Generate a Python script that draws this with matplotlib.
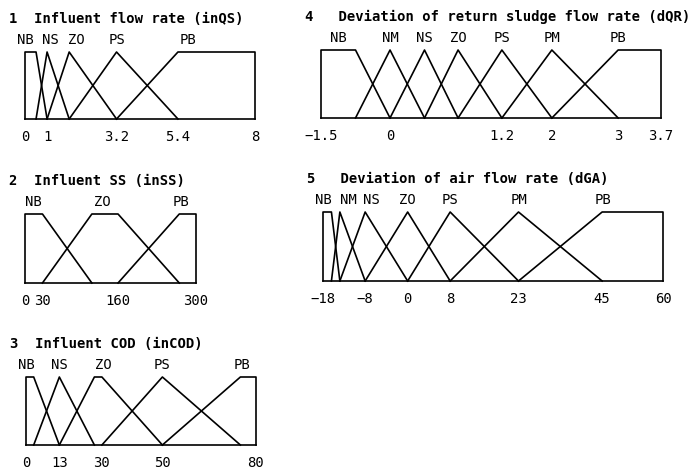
import numpy as np
import matplotlib.pyplot as plt

plt.rcParams["font.family"] = "DejaVu Sans Mono"
plt.rcParams["font.size"] = 10

# each fuzzy set is (a, b, c, d): 0 at a, 1 from b to c, 0 at d
inqs_terms = ["NB", "NS", "ZO", "PS", "PB"]
inqs_sets = [[0, 0, 0.5, 1], [0.5, 1, 1, 1.7], [1, 1.7, 1.7, 3.2],
             [1.7, 3.2, 3.2, 5.4], [3.2, 5.4, 8, 8]]
inqs_ticks = [0, 1, 3.2, 5.4, 8]

inss_terms = ["NB", "ZO", "PB"]
inss_sets = [[0, 0, 30, 115], [30, 115, 160, 270], [160, 270, 300, 300]]
inss_ticks = [0, 30, 160, 300]

incod_terms = ["NB", "NS", "ZO", "PS", "PB"]
incod_sets = [[0, 0, 3, 13], [3, 13, 13, 27], [13, 27, 30, 50],
              [30, 50, 50, 75], [50, 75, 80, 80]]
incod_ticks = [0, 13, 30, 50, 80]

dqr_terms = ["NB", "NM", "NS", "ZO", "PS", "PM", "PB"]
dqr_sets = [[-1.5, -1.5, -0.75, 0], [-0.75, 0, 0, 0.37], [0, 0.37, 0.37, 0.73],
            [0.37, 0.73, 0.73, 1.2], [0.73, 1.2, 1.2, 2], [1.2, 2, 2, 3],
            [2, 3, 3.7, 3.7]]
dqr_ticks = [-1.5, 0, 1.2, 2, 3, 3.7]

dga_terms = ["NB", "NM", "NS", "ZO", "PS", "PM", "PB"]
dga_sets = [[-18, -18, -16, -14], [-16, -14, -14, -8], [-14, -8, -8, 0],
            [-8, 0, 0, 8], [0, 8, 8, 23], [8, 23, 23, 45], [23, 45, 60, 60]]
dga_ticks = [-18, -8, 0, 8, 23, 45, 60]

# the original drawing does not use an even axis: where each tick sits (fraction of the box)
inqs_tick_pos = [0, 0.096, 0.398, 0.665, 1]
inss_tick_pos = [0, 0.102, 0.544, 1]
incod_tick_pos = [0, 0.145, 0.330, 0.593, 1]
dqr_tick_pos = [0, 0.203, 0.532, 0.679, 0.874, 1]
dga_tick_pos = [0, 0.124, 0.249, 0.374, 0.575, 0.821, 1]

W, H = 696, 474
panels = [
    ("1  Influent flow rate (inQS)", inqs_terms, inqs_sets, inqs_ticks, inqs_tick_pos,
     (25, 255, 52, 119), {"NB": -5, "NS": 3, "ZO": 7, "PB": 10}),
    ("2  Influent SS (inSS)", inss_terms, inss_sets, inss_ticks, inss_tick_pos,
     (25, 196, 214, 283), {"ZO": -3, "PB": 2}),
    ("3  Influent COD (inCOD)", incod_terms, incod_sets, incod_ticks, incod_tick_pos,
     (26, 256, 377, 445), {"NB": -3, "ZO": 5, "PB": 2}),
    ("4   Deviation of return sludge flow rate (dQR)", dqr_terms, dqr_sets, dqr_ticks, dqr_tick_pos,
     (321, 661, 50, 118), {}),
    ("5   Deviation of air flow rate (dGA)", dga_terms, dga_sets, dga_ticks, dga_tick_pos,
     (323, 663, 212, 281), {"NB": -4, "NM": 9, "NS": 6, "PB": 1}),
]

fig = plt.figure(figsize=(W / 100, H / 100), dpi=100)

for title, terms, sets, ticks, tick_pos, box, nudge in panels:
    x0, x1, ytop, ybot = box
    ax = fig.add_axes([x0 / W, 1 - ybot / H, (x1 - x0) / W, (ybot - ytop) / H])

    def fwd(x, t=ticks, p=tick_pos):
        return np.interp(x, t, p)

    def inv(p, t=ticks, pp=tick_pos):
        return np.interp(p, pp, t)

    ax.set_xscale("function", functions=(fwd, inv))
    ax.set_xlim(ticks[0], ticks[-1])
    ax.set_ylim(0, 1)

    for i, (term, s) in enumerate(zip(terms, sets)):
        ax.plot(s, [0, 1, 1, 0], color="black", lw=1.2, clip_on=False)
        # label above the top of each set
        if i == len(terms) - 1:
            xc = s[1]
        else:
            xc = inv((fwd(s[1]) + fwd(s[2])) / 2)
        ax.annotate(term, xy=(xc, 1), xycoords=("data", "axes fraction"),
                    xytext=(nudge.get(term, 0), 8), textcoords="offset pixels",
                    ha="center", va="baseline")

    ax.annotate(title, xy=(0, 1), xycoords="axes fraction", xytext=(-16, 29),
                textcoords="offset pixels", ha="left", va="baseline", fontweight="bold")

    ax.set_xticks(ticks, [f"{t:g}".replace("-", "\u2212") for t in ticks])
    ax.set_yticks([])
    ax.tick_params(axis="x", length=0, pad=8)
    for side in ["top", "left", "right"]:
        ax.spines[side].set_visible(False)
    ax.spines["bottom"].set_linewidth(1.2)
    ax.minorticks_off()

fig.savefig("out.png", dpi=100)
